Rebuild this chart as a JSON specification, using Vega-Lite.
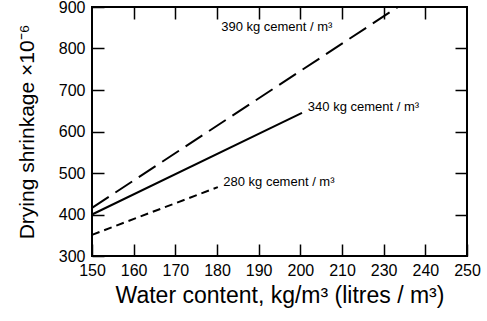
{
  "$schema": "https://vega.github.io/schema/vega-lite/v6.json",
  "autosize": "none",
  "padding": {"left": 92, "top": 7, "right": 20, "bottom": 65},
  "width": 375,
  "height": 249,
  "background": "white",
  "config": {
    "font": "Liberation Sans",
    "view": {"stroke": "black", "strokeWidth": 2},
    "axis": {"domain": false, "grid": false, "ticks": true, "tickColor": "black", "tickWidth": 1.5, "tickSize": -12,
      "labelFlush": false, "labelOverlap": false, "labelBound": false,
      "labelFont": "Liberation Sans", "labelColor": "black", "titleColor": "black", "titleFont": "Liberation Sans", "titleFontWeight": "normal"}
  },
  "datasets": {
    "lines": [
      {"cement": "390", "water": 150, "shrinkage": 416},
      {"cement": "390", "water": 223.4, "shrinkage": 900},
      {"cement": "340", "water": 150, "shrinkage": 400},
      {"cement": "340", "water": 200.4, "shrinkage": 645},
      {"cement": "280", "water": 150, "shrinkage": 351},
      {"cement": "280", "water": 180.2, "shrinkage": 466}
    ],
    "labels": [
      {"label": "390 kg cement / m³", "water": 181, "shrinkage": 852},
      {"label": "340 kg cement / m³", "water": 201.8, "shrinkage": 659},
      {"label": "280 kg cement / m³", "water": 181.5, "shrinkage": 478}
    ]
  },
  "resolve": {"axis": {"x": "independent", "y": "independent"}},
  "layer": [
    {
      "data": {"name": "lines"},
      "transform": [{"filter": "datum.cement === '390'"}],
      "mark": {"type": "line", "color": "black", "strokeWidth": 2, "strokeDash": [20, 8]},
      "encoding": {
        "x": {"field": "water", "type": "quantitative", "scale": {"domain": [150, 240], "nice": false},
          "axis": {"orient": "bottom", "values": [150,160,170,180,190,200,210,220,230,240], "labelExpr": "datum.value >= 220 ? datum.value + 10 : datum.value", "labelFontSize": 16, "labelPadding": 18, "title": "Water content, kg/m³ (litres / m³)", "titleFontSize": 23, "titlePadding": 6}},
        "y": {"field": "shrinkage", "type": "quantitative", "scale": {"domain": [300, 900], "nice": false},
          "axis": {"orient": "left", "values": [300,400,500,600,700,800,900], "labelFontSize": 16, "labelPadding": 19, "title": "Drying shrinkage ×10⁻⁶", "titleFontSize": 21, "titlePadding": 21}}
      }
    },
    {
      "data": {"name": "lines"},
      "transform": [{"filter": "datum.cement === '340'"}],
      "mark": {"type": "line", "color": "black", "strokeWidth": 2},
      "encoding": {
        "x": {"field": "water", "type": "quantitative", "axis": {"orient": "top", "values": [160,170,180,190,200,210,220,230], "labels": false, "title": null}},
        "y": {"field": "shrinkage", "type": "quantitative", "axis": {"orient": "right", "values": [400,500,600,700,800], "labels": false, "title": null}}
      }
    },
    {
      "data": {"name": "lines"},
      "transform": [{"filter": "datum.cement === '280'"}],
      "mark": {"type": "line", "color": "black", "strokeWidth": 2, "strokeDash": [8, 5]},
      "encoding": {
        "x": {"field": "water", "type": "quantitative", "axis": null},
        "y": {"field": "shrinkage", "type": "quantitative", "axis": null}
      }
    },
    {
      "data": {"name": "labels"},
      "mark": {"type": "text", "align": "left", "baseline": "middle", "fontSize": 13, "color": "black", "font": "Liberation Sans"},
      "encoding": {
        "x": {"field": "water", "type": "quantitative", "axis": null},
        "y": {"field": "shrinkage", "type": "quantitative", "axis": null},
        "text": {"field": "label"}
      }
    }
  ]
}
